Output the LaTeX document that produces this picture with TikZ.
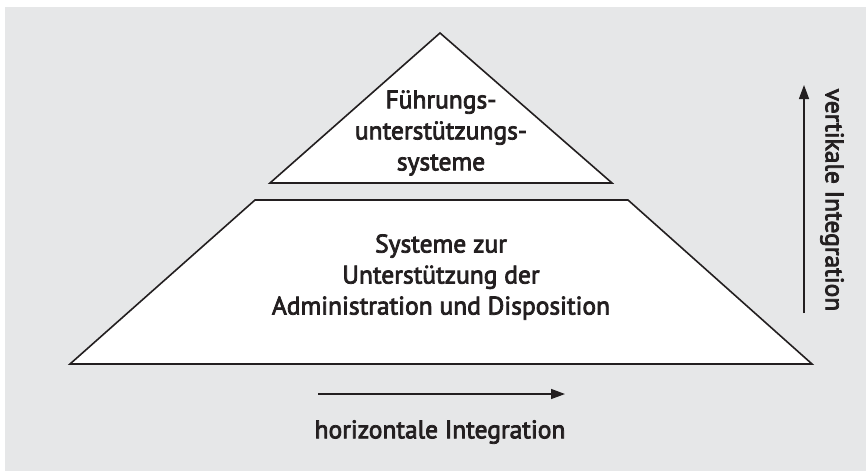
\documentclass[tikz,border=0pt]{standalone}
\usepackage{fontspec}
\setmainfont{PT Sans}
\newfontfamily\labelfont{PT Sans}[FakeBold=3]
\usetikzlibrary{arrows.meta}
\definecolor{panel}{HTML}{E6E7E8}
\definecolor{ink}{HTML}{231F20}
\begin{document}
\begin{tikzpicture}[x=1pt,y=-1pt,
  shapeline/.style={draw=ink,line width=1.6pt,fill=white,line join=miter},
  axis/.style={draw=ink,line width=1.4pt,-{Triangle[length=14pt,width=10pt]}},
  lbl/.style={text=ink,font=\labelfont\fontsize{25.5}{31}\selectfont,align=center,inner sep=0pt}]
  % canvas and grey panel
  \useasboundingbox (0,0) rectangle (866,471);
  \fill[white] (0,0) rectangle (866,471);
  \fill[panel] (5,7) rectangle (866,471);
  % top of the pyramid
  \draw[shapeline] (440,33) -- (612,183) -- (270,183) -- cycle;
  \node[lbl] (top) at (441,133) {Führungs-\\unterstützungs-\\systeme};
  % base of the pyramid
  \draw[shapeline] (255,200) -- (628,200) -- (812,364) -- (70,364) -- cycle;
  \node[lbl] (base) at (441,277) {Systeme zur\\Unterstützung der\\Administration und Disposition};
  % horizontal axis
  \coordinate (h1) at (318,394);
  \coordinate (h2) at (565,394);
  \draw[axis] (h1) -- (h2);
  \node[lbl] (hlab) at (440,432) {horizontale Integration};
  % vertical axis
  \coordinate (v1) at (804,313);
  \coordinate (v2) at (804,85);
  \draw[axis] (v1) -- (v2);
  \node[lbl,rotate=-90] (vlab) at (832,200) {vertikale Integration};
\end{tikzpicture}
\end{document}
